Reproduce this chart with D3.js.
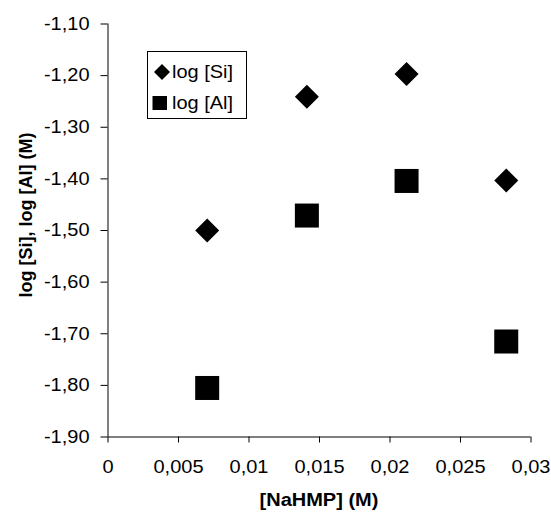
<!DOCTYPE html>
<html>
<head>
<meta charset="utf-8">
<script src="https://cdn.jsdelivr.net/npm/d3@7"></script>
<style>
  body { margin: 0; background: #fff; }
  svg { font-family: "Liberation Sans", Arial, sans-serif; }
</style>
</head>
<body>
<div id="chart"></div>
<script>
// data
var nahmp = [0.00707, 0.01414, 0.02121, 0.02828];
var logSi = [-1.501, -1.242, -1.198, -1.404];
var logAl = [-1.806, -1.472, -1.405, -1.716];
var xTicks = [0, 0.005, 0.01, 0.015, 0.02, 0.025, 0.03];
var yTicks = [-1.9, -1.8, -1.7, -1.6, -1.5, -1.4, -1.3, -1.2, -1.1];
var seriesNames = ["log [Si]", "log [Al]"];

var fontSize = 18;
var stretch = 1.11; // the original picture is a bit wider than tall

var svg = d3.select("#chart")
    .append("svg")
    .attr("width", 551)
    .attr("height", 517);

var margin = {top: 23.5, right: 20.5, bottom: 80.5, left: 107.5};
var width = 551 - margin.left - margin.right;
var height = 517 - margin.top - margin.bottom;

var g = svg.append("g")
    .attr("transform", "translate(" + margin.left + "," + margin.top + ")");

var x = d3.scaleLinear().domain([0, 0.03]).range([0, width]);
var y = d3.scaleLinear().domain([-1.9, -1.1]).range([height, 0]);

var comma = function(d) { return String(d).replace(".", ","); };

// x axis
var xAxis = g.append("g")
    .attr("transform", "translate(0," + height + ")")
    .call(d3.axisBottom(x).tickValues(xTicks).tickSize(6).tickPadding(18)
        .tickFormat(comma));

// y axis
var yAxis = g.append("g")
    .call(d3.axisLeft(y).tickValues(yTicks).tickSize(7).tickPadding(11)
        .tickFormat(function(d) { return d3.format(".2f")(d).replace(".", ",").replace("−", "-"); }));

[xAxis, yAxis].forEach(function(a) {
    a.select(".domain").attr("stroke", "#000").attr("stroke-width", 1);
    a.selectAll(".tick line").attr("stroke", "#000");
    a.selectAll("text").attr("font-size", fontSize).attr("fill", "#000")
        .attr("font-family", "Liberation Sans, Arial, sans-serif");
});
// plain domain lines, no outer ticks
yAxis.select(".domain").attr("d", "M0.5," + height + "V0");
xAxis.select(".domain").attr("d", "M0,0.5H" + width);

// axis titles
svg.append("text")
    .attr("class", "wide")
    .attr("x", margin.left + width / 2)
    .attr("y", 506)
    .attr("text-anchor", "middle")
    .attr("font-weight", "bold")
    .attr("font-size", fontSize)
    .text("[NaHMP] (M)");

svg.append("text")
    .attr("transform", "translate(32,215) rotate(-90)")
    .attr("text-anchor", "middle")
    .attr("font-weight", "bold")
    .attr("font-size", fontSize)
    .text("log [Si], log [Al] (M)");

// points
var diamond = "M0,-12L12,0L0,12L-12,0Z";

g.selectAll(".si")
    .data(nahmp.map(function(d, i) { return {x: d, y: logSi[i]}; }))
    .enter().append("path")
    .attr("class", "si")
    .attr("d", diamond)
    .attr("transform", function(d) { return "translate(" + x(d.x) + "," + y(d.y) + ")"; })
    .attr("fill", "#000");

g.selectAll(".al")
    .data(nahmp.map(function(d, i) { return {x: d, y: logAl[i]}; }))
    .enter().append("rect")
    .attr("class", "al")
    .attr("x", function(d) { return x(d.x) - 12; })
    .attr("y", function(d) { return y(d.y) - 12; })
    .attr("width", 24)
    .attr("height", 24)
    .attr("fill", "#000");

// legend
var legend = svg.append("g").attr("transform", "translate(147.5,51.5)");
legend.append("rect")
    .attr("x", 0).attr("y", 0)
    .attr("width", 99).attr("height", 67)
    .attr("fill", "#fff")
    .attr("stroke", "#000")
    .attr("stroke-width", 1);

var items = legend.selectAll(".item")
    .data(seriesNames)
    .enter().append("g")
    .attr("transform", function(d, i) { return "translate(0," + (20.5 + i * 31) + ")"; });

items.append("path")
    .attr("d", function(d, i) {
        return i === 0 ? "M14.5,-8L22.5,0L14.5,8L6.5,0Z" : "M5,-7H19.5V7H5Z";
    })
    .attr("fill", "#000");

items.append("text")
    .attr("class", "wide")
    .attr("x", 24.5)
    .attr("dy", "0.36em")
    .attr("font-size", fontSize)
    .attr("fill", "#000")
    .text(function(d) { return d; });

// widen horizontal texts
xAxis.selectAll("text").classed("wide", true);
yAxis.selectAll("text").classed("wide", true);
svg.selectAll("text.wide").each(function() {
    var len = this.getComputedTextLength();
    d3.select(this)
        .attr("textLength", len * stretch)
        .attr("lengthAdjust", "spacingAndGlyphs");
});
</script>
</body>
</html>
